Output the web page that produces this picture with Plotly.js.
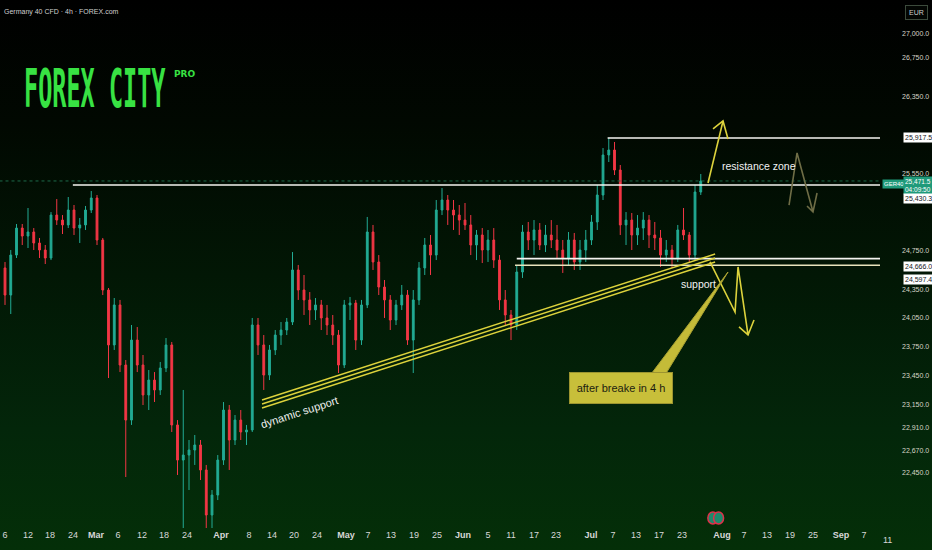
<!DOCTYPE html>
<html>
<head>
<meta charset="utf-8">
<script src="https://cdn.plot.ly/plotly-3.0.1.min.js"></script>
<style>
html,body{margin:0;padding:0;width:932px;height:550px;overflow:hidden;
background:linear-gradient(to bottom,#000000 0%,#010801 22%,#021705 50%,#03260a 78%,#042f08 100%);}
#chart{position:absolute;left:0;top:0;width:932px;height:550px;}
#logo{position:absolute;left:24px;top:63px;font-family:"DejaVu Sans Mono",monospace;font-weight:bold;font-size:23.5px;line-height:23px;color:#38e243;transform:scale(1,2.3);transform-origin:0 0;white-space:pre;}
#pro{position:absolute;left:174px;top:69px;font-family:"DejaVu Sans",sans-serif;font-weight:bold;font-size:9px;color:#38e243;}
</style>
</head>
<body>
<div id="chart"></div>
<div id="logo">FOREX CITY</div>
<div id="pro">PRO</div>
<script>
// ---- Data (bar index = trading day from Feb 6) ----
const openP = [24569,24288,24703,24983,24900,24942,24828,24755,24672,25118,25066,25015,25170,24983,25015,25170,25295,24859,24340,23770,24185,23562,22991,23821,23562,23251,23406,23303,23531,23770,22940,22576,22628,22680,22732,22473,22006,22213,22576,23095,22784,22991,22867,22888,23977,23770,23458,23718,23873,23925,24008,24548,24340,24237,24133,24185,24050,23977,23873,23562,24185,24205,23821,24185,24942,24631,24371,24237,24029,24185,24288,23821,24237,24569,24807,24703,25170,25274,25170,25118,25066,25015,24807,24911,24755,24859,24651,24237,24081,23977,24527,24942,24859,24963,24807,24911,24859,24755,24672,24859,24631,24755,24859,25046,25326,25741,25793,25585,25015,25066,24911,24983,25066,24911,24880,24703,24755,24672,24963,24911,24703,25357];
const highP = [24631,24755,25025,25025,25191,24983,24880,24807,25149,25284,25118,25305,25222,25087,25212,25367,25326,24880,24361,24257,24237,23614,23977,23956,23666,23510,23489,23593,23842,23801,22991,23303,22784,22836,22784,22525,22265,22628,23178,23147,23043,23095,22940,24050,24050,23873,23770,23925,24008,24050,24734,24600,24496,24319,24257,24237,24185,24081,23925,24237,24268,24237,24237,25098,25015,24703,24444,24288,24237,24392,24340,24340,24631,24880,24911,25274,25398,25326,25274,25222,25243,25118,24963,24983,24963,24983,24703,24340,24133,24600,25015,25046,25066,25035,25015,25066,25015,24859,24942,24932,24859,24963,25118,25430,25813,25917.5,25876,25637,25149,25139,25118,25149,25118,25046,24963,24859,24807,25015,25191,24942,25430,25544];
const lowP = [24185,24091,24672,24807,24776,24755,24672,24610,24651,25015,24921,24983,24911,24828,24963,25139,24807,24288,23427,23718,23489,22400,22940,23489,23147,23095,23178,23251,23489,22867,22421,21850,22265,22525,22369,21871,21850,22161,22525,22473,22732,22784,22732,22867,23666,23303,23406,23666,23770,23873,23977,24237,24081,23977,24029,23925,23873,23770,23479,23531,24029,23718,23770,24153,24548,24288,24050,23925,23977,24133,23770,23479,24185,24496,24496,24651,25118,25015,24963,24911,24963,24703,24651,24620,24631,24569,24133,23977,23821,23925,24465,24755,24703,24755,24734,24776,24672,24517,24600,24548,24548,24631,24807,24963,25274,25668,25533,24911,24807,24755,24807,24859,24776,24755,24579,24631,24569,24631,24859,24620,24651,25326];
const closeP = [24288,24703,24983,24900,24942,24828,24755,24672,25118,25066,25015,25170,24983,25015,25170,25295,24859,24340,23770,24185,23562,22991,23821,23562,23251,23406,23303,23531,23770,22940,22576,22628,22680,22732,22473,22006,22213,22576,23095,22784,22991,22867,22888,23977,23770,23458,23718,23873,23925,24008,24548,24340,24237,24133,24185,24050,23977,23873,23562,24185,24205,23821,24185,24942,24631,24371,24237,24029,24185,24288,23821,24237,24569,24807,24703,25170,25274,25170,25118,25066,25015,24807,24911,24755,24859,24651,24237,24081,23977,24527,24942,24859,24963,24807,24911,24859,24755,24672,24859,24631,24755,24859,25046,25326,25741,25793,25585,25015,25066,24911,24983,25066,24911,24880,24703,24755,24672,24963,24911,24703,25357,25471.5];
const barIndex = openP.map((_, i) => i);

// x-axis ticks (bar positions) and labels
const xTickPos = [0,4,7.83,11.83,15.83,19.65,23.83,27.65,31.65,37.57,42.43,46.43,50.26,54.26,59.3,63.13,67.13,71.13,75.13,79.65,84,88,92,95.83,101.9,105.74,109.74,113.74,117.74,124.7,128.5,132.5,136.5,140.5,145.4,149.4];
const xTickText = ['6','12','18','24','<b>Mar</b>','6','12','18','24','<b>Apr</b>','8','14','20','24','<b>May</b>','7','13','19','25','<b>Jun</b>','5','11','17','23','<b>Jul</b>','7','13','17','23','<b>Aug</b>','7','13','19','25','<b>Sep</b>','7'];

// y-axis ticks
const yTickVals = [22450,22670,22910,23150,23450,23750,24050,24350,24750,25550,26350,26750,27000];
const yTickText = yTickVals.map(v => v.toLocaleString('en-US',{minimumFractionDigits:1,maximumFractionDigits:1}));

// key levels
const levelHigh = 25917.5;
const levelLast = 25471.5;
const levelRes = 25430.3;
const levelSup1 = 24666.0;
const levelSup2 = 24597.4;

// dynamic support trend line anchors [bar, price]
const trendStart = [44.7, 23199];
const trendEnd = [123.5, 24714];
const trendOffsets = [0, -41.5, -83];

const FONT = '"Liberation Sans", Arial, sans-serif';
const YEL = '#dcd23c';

const trace = {
  type: 'candlestick',
  x: barIndex, open: openP, high: highP, low: lowP, close: closeP,
  increasing: {line: {color: '#22ab94', width: 1}, fillcolor: '#22ab94'},
  decreasing: {line: {color: '#f23645', width: 1}, fillcolor: '#f23645'},
  whiskerwidth: 0,
  hoverinfo: 'skip'
};

const shapes = [
  {type:'line', xref:'x', yref:'y', x0:-2, x1:160, y0:levelLast, y1:levelLast, line:{color:'#1e6a4a', width:1, dash:'dot'}},
  {type:'line', xref:'x', yref:'y', x0:104.8, x1:160, y0:levelHigh, y1:levelHigh, line:{color:'#f4f4f0', width:1.6}},
  {type:'line', xref:'x', yref:'y', x0:11.8, x1:160, y0:levelRes, y1:levelRes, line:{color:'#f4f4f0', width:1.6}},
  {type:'line', xref:'x', yref:'y', x0:89.0, x1:160, y0:levelSup1, y1:levelSup1, line:{color:'#f4f4f0', width:1.6}},
  {type:'line', xref:'x', yref:'y', x0:88.7, x1:160, y0:levelSup2, y1:levelSup2, line:{color:'#e8e4bc', width:1.6}}
];
trendOffsets.forEach(o => shapes.push({type:'line', xref:'x', yref:'y', x0:trendStart[0], y0:trendStart[1]+o, x1:trendEnd[0], y1:trendEnd[1]+o, line:{color:YEL, width:1.4}}));
// arrows
shapes.push({type:'path', xref:'x', yref:'y', path:'M 122.26,25451 L 124.87,26094 M 123.13,26011 L 124.87,26094 L 125.74,25907', line:{color:YEL, width:1.6}});
shapes.push({type:'path', xref:'x', yref:'y', path:'M 136.35,25222 L 137.74,25762 L 140.52,25150 M 139.48,25212 L 140.52,25150 L 141.22,25347', line:{color:'#6f6d46', width:1.6}});
shapes.push({type:'path', xref:'x', yref:'y', path:'M 122.6,24631 L 126.96,24112 L 127.48,24579 L 129.22,23874 M 127.65,23957 L 129.22,23874 L 130.26,24029', line:{color:YEL, width:1.6}});
// callout pointer
shapes.push({type:'path', xref:'x', yref:'y', path:'M 112.5,23479 L 115.0,23479 L 125.74,24527 Z', fillcolor:'#c4bb38', line:{color:'#a8a032', width:1}});
// event markers
shapes.push({type:'circle', xref:'x', yref:'y', xsizemode:'pixel', ysizemode:'pixel', xanchor:123.1, yanchor:21975, x0:-5, x1:5, y0:-6, y1:6, fillcolor:'#1d8a6c', line:{color:'#e0304a', width:1.5}});
shapes.push({type:'circle', xref:'x', yref:'y', xsizemode:'pixel', ysizemode:'pixel', xanchor:124.1, yanchor:21975, x0:-5, x1:5, y0:-6, y1:6, fillcolor:'#1d8a6c', line:{color:'#e0304a', width:1.5}});

const boxLabel = (text, y, yshift, bg, fg, xshift, size) => ({
  xref:'paper', yref:'y', x:1, y:y, xanchor:'left', yanchor:'middle', xshift:xshift, yshift:yshift,
  text:text, showarrow:false, bgcolor:bg, font:{family:FONT, size:size || 7, color:fg}, borderpad:1
});

const annotations = [
  {xref:'paper', yref:'paper', x:0, y:1, xanchor:'left', yanchor:'top', xshift:2, yshift:-6, text:'Germany 40 CFD · 4h · FOREX.com', showarrow:false, font:{family:FONT, size:7, color:'#cfcfcf'}},
  {xref:'paper', yref:'paper', x:1, y:1, xanchor:'left', yanchor:'top', xshift:25, yshift:-5, text:'EUR', showarrow:false, font:{family:FONT, size:7, color:'#cfcfcf'}, bordercolor:'#3c4a3c', borderwidth:1, borderpad:3, bgcolor:'#030603'},
  boxLabel('25,917.5', levelHigh, 0, '#ffffff', '#131722', 23),
  boxLabel('GER40', levelLast, -3, '#1f9a7a', '#ffffff', 2, 6),
  boxLabel('25,471.5<br>04:09:50', levelLast, -5, '#1f9a7a', '#ffffff', 23, 6.5),
  boxLabel('25,430.3', levelRes, -14, '#ffffff', '#131722', 23),
  boxLabel('24,666.0', levelSup1, -8, '#ffffff', '#131722', 23),
  boxLabel('24,597.4', levelSup2, -14, '#ffffff', '#131722', 23),
  {xref:'paper', yref:'paper', x:1, y:0, xanchor:'center', yanchor:'top', xshift:7, yshift:-5, text:'11', showarrow:false, font:{family:FONT, size:9, color:'#d8d8d8'}},
  {xref:'x', yref:'y', x:131.13, y:25627, text:'resistance zone', showarrow:false, font:{family:FONT, size:10.5, color:'#f2f2f2'}},
  {xref:'x', yref:'y', x:120.52, y:24403, text:'support', showarrow:false, font:{family:FONT, size:10.5, color:'#f2f2f2'}},
  {xref:'x', yref:'y', x:51.3, y:23075, text:'dynamic support', textangle:-18, showarrow:false, font:{family:FONT, size:11, color:'#f2f2f2'}},
  {xref:'x', yref:'y', x:107.13, y:23324, text:'after breake in 4 h', showarrow:false, font:{family:FONT, size:11, color:'#1d1d10'}, bgcolor:'#c8bf3a', bordercolor:'#9c9430', borderwidth:1, borderpad:3, width:96, height:24}
];

const layout = {
  width: 932, height: 550,
  margin: {l:0, r:52, t:0, b:22},
  paper_bgcolor: 'rgba(0,0,0,0)', plot_bgcolor: 'rgba(0,0,0,0)',
  showlegend: false, hovermode: false,
  boxgap: 0.55,
  xaxis: {range:[-0.87, 152.17], tickvals:xTickPos, ticktext:xTickText, showgrid:false, zeroline:false, showline:false, ticks:'',
          tickfont:{family:FONT, size:9, color:'#d8d8d8'}, rangeslider:{visible:false}, fixedrange:true, tickangle:0},
  yaxis: {side:'right', range:[21871, 27349], tickvals:yTickVals, ticktext:yTickText, showgrid:false, zeroline:false, showline:false, ticks:'',
          tickfont:{family:FONT, size:7, color:'#d6d6c6'}, ticklabelstandoff:21, fixedrange:true},
  shapes: shapes,
  annotations: annotations
};

Plotly.newPlot('chart', [trace], layout, {displayModeBar:false, staticPlot:true});
</script>
</body>
</html>
